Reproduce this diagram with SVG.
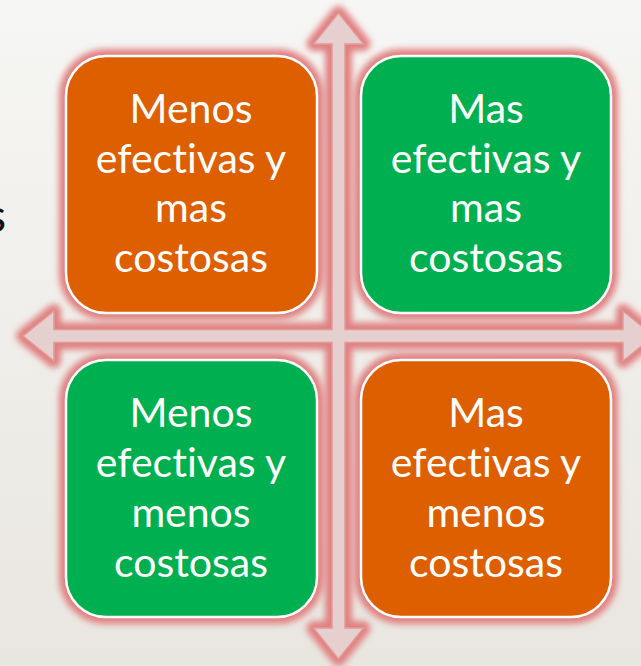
<svg xmlns="http://www.w3.org/2000/svg" width="641" height="666" viewBox="0 0 641 666">
  <defs>
    <linearGradient id="bg" x1="0" y1="0" x2="0" y2="1">
      <stop offset="0" stop-color="#f6f6f4"/>
      <stop offset="1" stop-color="#e9e6e0"/>
    </linearGradient>
    <filter id="blur" x="-10%" y="-10%" width="120%" height="120%">
      <feGaussianBlur stdDeviation="3"/>
    </filter>
    <path id="crossPath" d="M 338.5 13 L 363.5 44 L 345 44 L 345 329.5 L 623 329.5 L 623 311 L 654 336 L 623 361 L 623 342.5 L 345 342.5 L 345 628 L 363.5 628 L 338.5 659 L 313.5 628 L 332 628 L 332 342.5 L 54 342.5 L 54 361 L 23 336 L 54 311 L 54 329.5 L 332 329.5 L 332 44 L 313.5 44 Z"/>
  </defs>
  <style>
    .glow { fill: none; stroke: #e08080; stroke-width: 14; stroke-linejoin: round; filter: url(#blur); }
    .box { stroke: #ffffff; stroke-width: 2.5; }
    .orange { fill: #dd5f00; }
    .green { fill: #00b050; }
    .label { font-family: Lato, "Open Sans", "Liberation Sans", sans-serif; font-size: 41px; fill: #ffffff; text-anchor: middle; font-variant-ligatures: none; font-feature-settings: "liga" 0, "dlig" 0; }
  </style>
  <rect x="0" y="0" width="641" height="666" fill="url(#bg)"/>
  <text x="6" y="232" font-family="Lato, 'Liberation Sans', sans-serif" font-size="47" fill="#111111" text-anchor="end">s</text>

  <g id="connectors">
    <use href="#crossPath" class="glow"/>
    <use href="#crossPath" fill="#e6cfcf" stroke="#e39a9a" stroke-width="1.5"/>
  </g>

  <g id="node-tl">
    <rect x="66" y="56" width="251" height="257" rx="40" class="glow"/>
    <rect x="66" y="56" width="251" height="257" rx="40" class="box orange"/>
    <text class="label" x="191" y="123">Menos</text>
    <text class="label" x="191" y="173">efectivas y</text>
    <text class="label" x="191" y="222">mas</text>
    <text class="label" x="191" y="272">costosas</text>
  </g>
  <g id="node-tr">
    <rect x="361" y="56" width="250" height="257" rx="40" class="glow"/>
    <rect x="361" y="56" width="250" height="257" rx="40" class="box green"/>
    <text class="label" x="486" y="123">Mas</text>
    <text class="label" x="486" y="173">efectivas y</text>
    <text class="label" x="486" y="222">mas</text>
    <text class="label" x="486" y="272">costosas</text>
  </g>
  <g id="node-bl">
    <rect x="66" y="360" width="251" height="257" rx="40" class="glow"/>
    <rect x="66" y="360" width="251" height="257" rx="40" class="box green"/>
    <text class="label" x="191" y="427">Menos</text>
    <text class="label" x="191" y="477">efectivas y</text>
    <text class="label" x="191" y="527">menos</text>
    <text class="label" x="191" y="577">costosas</text>
  </g>
  <g id="node-br">
    <rect x="361" y="360" width="250" height="257" rx="40" class="glow"/>
    <rect x="361" y="360" width="250" height="257" rx="40" class="box orange"/>
    <text class="label" x="486" y="427">Mas</text>
    <text class="label" x="486" y="477">efectivas y</text>
    <text class="label" x="486" y="527">menos</text>
    <text class="label" x="486" y="577">costosas</text>
  </g>
</svg>
